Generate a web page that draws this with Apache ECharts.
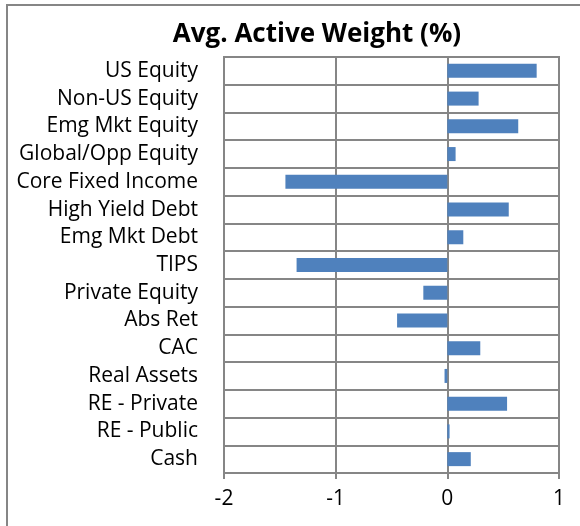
<!DOCTYPE html>
<html>
<head>
<meta charset="utf-8">
<script src="https://cdn.jsdelivr.net/npm/echarts@6/dist/echarts.min.js"></script>
<style>
  html, body { margin: 0; padding: 0; background: #fff; }
  #chart { width: 580px; height: 526px; }
</style>
</head>
<body>
<div id="chart"></div>
<script>
const categories = [
  'US Equity', 'Non-US Equity', 'Emg Mkt Equity', 'Global/Opp Equity',
  'Core Fixed Income', 'High Yield Debt', 'Emg Mkt Debt', 'TIPS',
  'Private Equity', 'Abs Ret', 'CAC', 'Real Assets', 'RE - Private',
  'RE - Public', 'Cash'
];
const activeWeight = [
  0.80, 0.28, 0.635, 0.074, -1.45, 0.55, 0.143, -1.35,
  -0.215, -0.45, 0.295, -0.025, 0.535, 0.02, 0.21
];
const title = 'Avg. Active Weight (%)';

const gridColor = '#868686';
const font = '"Open Sans", sans-serif';

const chart = echarts.init(document.getElementById('chart'), null, { renderer: 'canvas' });

chart.setOption({
  animation: false,
  title: {
    text: title,
    left: 312,
    textAlign: 'center',
    top: 17,
    textStyle: { fontFamily: font, fontSize: 26, fontWeight: 'bold', color: '#000' }
  },
  graphic: [{
    type: 'rect',
    shape: { x: 7, y: 5, width: 640, height: 620 },
    style: { fill: 'none', stroke: gridColor, lineWidth: 2 },
    silent: true
  }],
  grid: {
    left: 224, right: 21, top: 57, bottom: 53,
    show: true, borderColor: gridColor, borderWidth: 2
  },
  xAxis: {
    type: 'value',
    min: -2, max: 1, interval: 1,
    axisLine: { show: true, lineStyle: { color: gridColor, width: 2 } },
    axisTick: { show: true, length: 6, lineStyle: { color: gridColor, width: 2 } },
    splitLine: { show: true, lineStyle: { color: gridColor, width: 2 } },
    axisLabel: { fontFamily: font, fontSize: 21, color: '#000', margin: 16 }
  },
  yAxis: {
    type: 'category',
    inverse: true,
    data: categories,
    axisLine: { show: true, lineStyle: { color: gridColor, width: 2 } },
    axisTick: { show: false },
    splitLine: { show: true, lineStyle: { color: gridColor, width: 2 } },
    axisLabel: { fontFamily: font, fontSize: 21, color: '#000', margin: 26 }
  },
  series: [{
    type: 'bar',
    data: activeWeight,
    barWidth: 14,
    itemStyle: { color: '#4F81BD' }
  }]
});
</script>
</body>
</html>
